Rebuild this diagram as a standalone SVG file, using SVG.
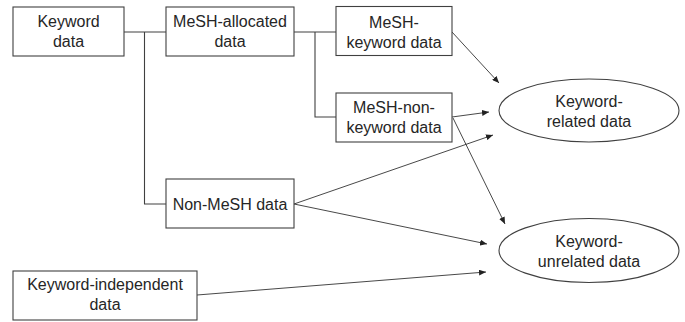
<svg xmlns="http://www.w3.org/2000/svg" width="685" height="322" viewBox="0 0 685 322">
<defs>
<style>
.box{fill:#fff;stroke:#404040;stroke-width:1.1}
.ell{fill:#fff;stroke:#404040;stroke-width:1.1}
.t{font-family:"Liberation Sans",Arial,sans-serif;font-size:16px;fill:#262626;text-anchor:middle}
.ln{fill:none;stroke:#404040;stroke-width:1.1}
.ar{fill:none;stroke:#333;stroke-width:0.9;marker-end:url(#ah)}
</style>
<marker id="ah" markerUnits="userSpaceOnUse" markerWidth="8" markerHeight="6" refX="7" refY="3" orient="auto">
<path d="M0,0 L7,3 L0,6 Z" fill="#222"/>
</marker>
</defs>
<rect width="685" height="322" fill="#fff"/>
<g id="connectors">
<path class="ln" d="M124,32 H166 M144.5,32 V204 H166"/>
<path class="ln" d="M294,32 H336 M315,32 V117 H336"/>
<path class="ar" d="M452,32 L499,83"/>
<path class="ar" d="M452,117 L489,112"/>
<path class="ar" d="M453,118 L505,224"/>
<path class="ar" d="M294,204 L493,135"/>
<path class="ar" d="M294,204 L487,244"/>
<path class="ar" d="M197,295 L486,272"/>
</g>
<g id="keyword-data">
<rect class="box" x="13" y="7" width="111" height="49"/>
<text class="t" x="68.5" y="27">Keyword</text>
<text class="t" x="68.5" y="47">data</text>
</g>
<g id="mesh-allocated">
<rect class="box" x="166" y="7" width="128" height="49"/>
<text class="t" x="230" y="27">MeSH-allocated</text>
<text class="t" x="230" y="47">data</text>
</g>
<g id="mesh-keyword">
<rect class="box" x="336" y="6.5" width="116" height="49"/>
<text class="t" x="394" y="27.5">MeSH-</text>
<text class="t" x="394" y="47.5">keyword data</text>
</g>
<g id="mesh-non-keyword">
<rect class="box" x="336" y="93" width="116" height="49"/>
<text class="t" x="394" y="113">MeSH-non-</text>
<text class="t" x="394" y="133">keyword data</text>
</g>
<g id="non-mesh">
<rect class="box" x="166" y="179" width="128" height="49"/>
<text class="t" x="230" y="209.5">Non-MeSH data</text>
</g>
<g id="keyword-independent">
<rect class="box" x="13" y="271" width="184" height="49"/>
<text class="t" x="105" y="290">Keyword-independent</text>
<text class="t" x="105" y="310">data</text>
</g>
<g id="keyword-related">
<ellipse class="ell" cx="589" cy="110.5" rx="90" ry="31.5"/>
<text class="t" x="589" y="107">Keyword-</text>
<text class="t" x="589" y="127">related data</text>
</g>
<g id="keyword-unrelated">
<ellipse class="ell" cx="589" cy="250.5" rx="90" ry="32"/>
<text class="t" x="589" y="247">Keyword-</text>
<text class="t" x="589" y="267">unrelated data</text>
</g>
</svg>
